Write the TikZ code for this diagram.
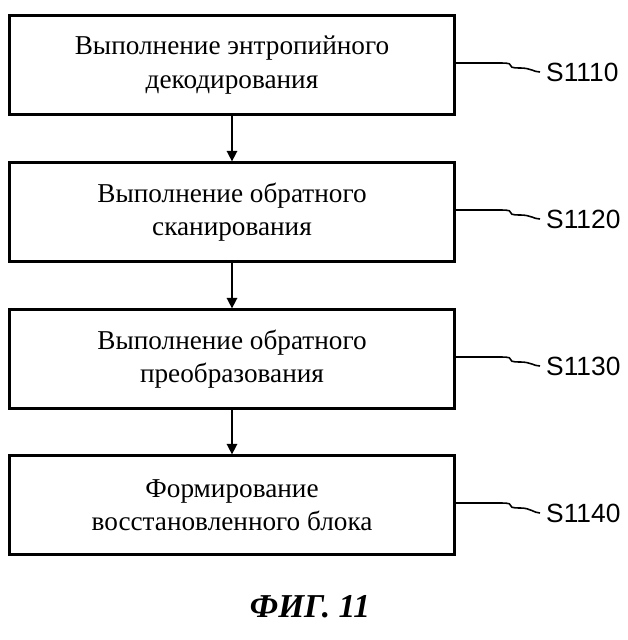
\documentclass[tikz,border=0pt]{standalone}
\usepackage{fontspec}
\setmainfont{Liberation Serif}
\newfontfamily\labfont{Liberation Sans}
\usetikzlibrary{positioning,arrows.meta}
\tikzset{
  stepbox/.style={draw,line width=1.3pt,minimum width=8.9cm,minimum height=1.98cm,align=center,font=\fontsize{15.5}{19}\selectfont},
  steplab/.style={font=\labfont\fontsize{15}{17}\selectfont,anchor=west},
  flow/.style={-{Triangle[length=6pt,width=6pt]},line width=0.9pt}
}
\begin{document}
\begin{tikzpicture}[x=0.02cm,y=-0.02cm]
    \useasboundingbox (0,0) rectangle (627,640);
    \node[stepbox] (SA) at (232,65) {Выполнение энтропийного\\декодирования};
    \node[stepbox] (SB) at (232,212) {Выполнение обратного\\сканирования};
    \node[stepbox] (SC) at (232,359) {Выполнение обратного\\преобразования};
    \node[stepbox] (SD) at (232,505) {Формирование\\восстановленного блока};

    \node[steplab] (LA) at (540,72) {S1110};
    \node[steplab] (LB) at (540,219) {S1120};
    \node[steplab] (LC) at (540,366) {S1130};
    \node[steplab] (LD) at (540,513) {S1140};

    \draw[flow] (SA)--(SB);
    \draw[flow] (SB)--(SC);
    \draw[flow] (SC)--(SD);

    \foreach \b/\l in {SA/LA,SB/LB,SC/LC,SD/LD}{
      \draw[line width=0.9pt] (\b.east) ++(0,-2) -- ++(45,0) .. controls +(20,0) and +(-20,0) .. ++(20,5) .. controls +(10,0) and +(-6,0) .. (\l.west);
    }
    \node[font=\bfseries\itshape\fontsize{19}{22}\selectfont] (CAP) at (310,607) {ФИГ. 11};
\end{tikzpicture}
\end{document}
